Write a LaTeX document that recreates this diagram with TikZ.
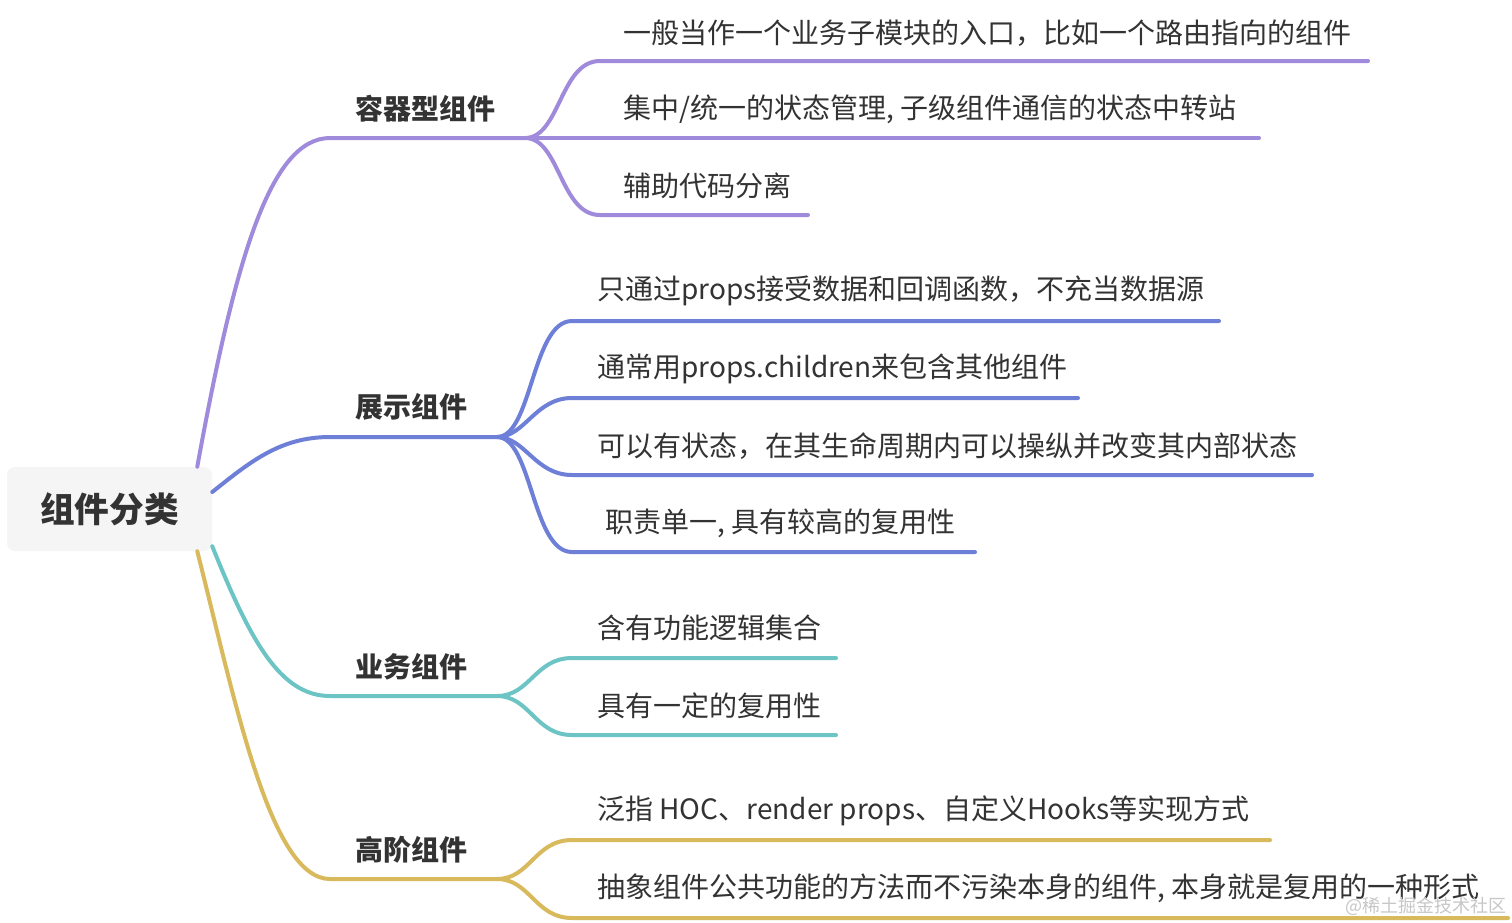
\documentclass[tikz,border=0pt]{standalone}
\usepackage{fontspec}
\setmainfont{Noto Sans CJK SC}
\usetikzlibrary{calc}

\definecolor{purplebr}{HTML}{A08ADB}
\definecolor{bluebr}{HTML}{6E7FD8}
\definecolor{tealbr}{HTML}{6CC4C4}
\definecolor{yellowbr}{HTML}{D8B95B}
\definecolor{textgray}{HTML}{333333}
\definecolor{rootfill}{HTML}{F5F5F5}

\begin{document}
\begin{tikzpicture}[
    x=0.75pt, y=-0.75pt,
    font=\fontsize{21}{25}\selectfont, text=textgray,
    rootbox/.style={fill=rootfill, rounded corners=6pt, minimum width=153.75pt, minimum height=63pt, font=\fontsize{26}{30}\selectfont\bfseries},
    topic/.style={anchor=west, inner sep=0pt, font=\fontsize{21}{25}\selectfont\bfseries},
    leaf/.style={anchor=west, inner sep=0pt},
    branch/.style={line width=3pt, line cap=round},
    watermark/.style={anchor=west, inner sep=0pt, text=black!22, font=\fontsize{13.5}{16}\selectfont}
  ]
    \fill[white] (0,0) rectangle (1512,922);
    \useasboundingbox (0,0) rectangle (1512,922);

    % root and topics
    \node[rootbox] (root) at (109.5,509) {组件分类};
    \node[topic] (cont) at (355,109) {容器型组件};
    \node[topic] (pres) at (355,407) {展示组件};
    \node[topic] (biz) at (355,667) {业务组件};
    \node[topic] (hoc) at (355,850) {高阶组件};

    % leaves
    \node[leaf] (cont1) at (623,33) {一般当作一个业务子模块的入口，比如一个路由指向的组件};
    \node[leaf] (cont2) at (623,109) {集中/统一的状态管理, 子级组件通信的状态中转站};
    \node[leaf] (cont3) at (623,186) {辅助代码分离};
    \node[leaf] (pres1) at (597,291) {只通过props接受数据和回调函数，不充当数据源};
    \node[leaf] (pres2) at (597,369) {通常用props.children来包含其他组件};
    \node[leaf] (pres3) at (597,446) {可以有状态，在其生命周期内可以操纵并改变其内部状态};
    \node[leaf] (pres4) at (605,523) {职责单一, 具有较高的复用性};
    \node[leaf] (biz1) at (597,628) {含有功能逻辑集合};
    \node[leaf] (biz2) at (597,706) {具有一定的复用性};
    \node[leaf] (hoc1) at (597,811) {泛指 HOC、render props、自定义Hooks等实现方式};
    \node[leaf] (hoc2) at (597,888) {抽象组件公共功能的方法而不污染本身的组件, 本身就是复用的一种形式};

    % junctions and line ends
    \coordinate (jcont) at (525,138);
    \coordinate (jpres) at (497,437);
    \coordinate (jbiz) at (497,696);
    \coordinate (jhoc) at (497,879);
    \coordinate (econt1) at (1368,61);
    \coordinate (econt2) at (1259,138);
    \coordinate (econt3) at (808,215);
    \coordinate (epres1) at (1219,321);
    \coordinate (epres2) at (1078,398);
    \coordinate (epres3) at (1312,475);
    \coordinate (epres4) at (975,552);
    \coordinate (ebiz1) at (836,658);
    \coordinate (ebiz2) at (836,735);
    \coordinate (ehoc1) at (1270,840);
    \coordinate (ehoc2) at (1508,918);

    % main branches
    \draw[branch, purplebr] ($(root.north east)+(-15,0)$) .. controls (235,260) and (270,138) .. (330,138) -- (jcont);
    \draw[branch, bluebr] ($(root.east)+(0,-17)$) .. controls (250,462) and (280,437) .. (330,437) -- (jpres);
    \draw[branch, tealbr] ($(root.south east)+(0,-5)$) .. controls (250,640) and (280,696) .. (330,696) -- (jbiz);
    \draw[branch, yellowbr] ($(root.south east)+(-15,0)$) .. controls (235,700) and (270,879) .. (330,879) -- (jhoc);

    % sub branches
    \draw[branch, purplebr] (jcont) .. controls (560,138) and (560,61) .. (600,61) -- (econt1);
    \draw[branch, purplebr] (jcont) -- (econt2);
    \draw[branch, purplebr] (jcont) .. controls (560,138) and (560,215) .. (600,215) -- (econt3);
    \draw[branch, bluebr] (jpres) .. controls (532,437) and (532,321) .. (572,321) -- (epres1);
    \draw[branch, bluebr] (jpres) .. controls (525,437) and (535,398) .. (572,398) -- (epres2);
    \draw[branch, bluebr] (jpres) .. controls (525,437) and (535,475) .. (572,475) -- (epres3);
    \draw[branch, bluebr] (jpres) .. controls (532,437) and (532,552) .. (572,552) -- (epres4);
    \draw[branch, tealbr] (jbiz) .. controls (530,696) and (535,658) .. (572,658) -- (ebiz1);
    \draw[branch, tealbr] (jbiz) .. controls (530,696) and (535,735) .. (572,735) -- (ebiz2);
    \draw[branch, yellowbr] (jhoc) .. controls (530,879) and (535,840) .. (572,840) -- (ehoc1);
    \draw[branch, yellowbr] (jhoc) .. controls (530,879) and (535,918) .. (572,918) -- (ehoc2);

    \node[watermark] (wm) at (1345,906) {@稀土掘金技术社区};
  \end{tikzpicture}
\end{document}
